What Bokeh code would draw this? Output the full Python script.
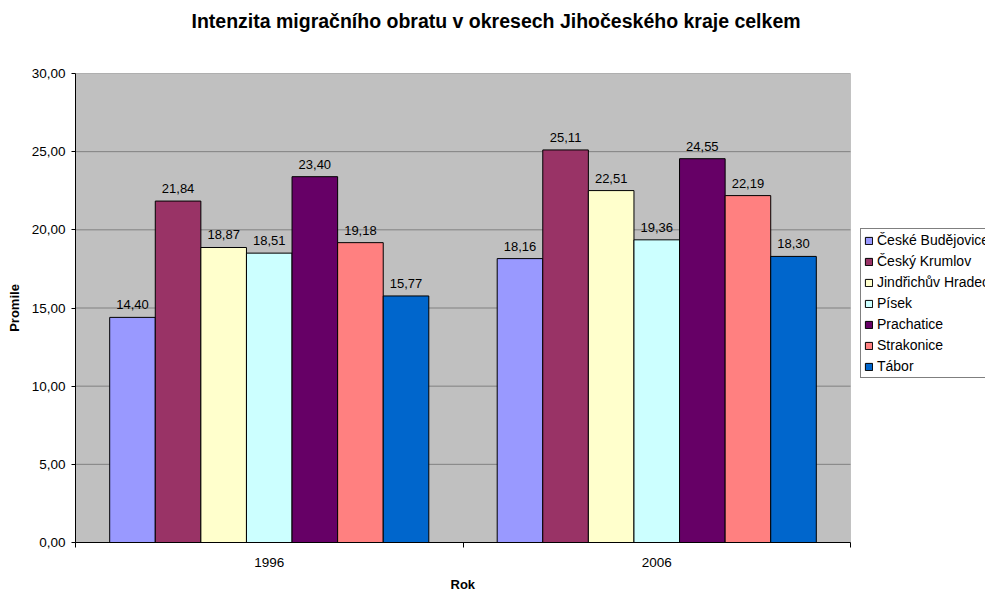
import numpy as np
from bokeh.plotting import figure
from bokeh.models import (ColumnDataSource, FixedTicker, Legend, LegendItem,
                          Range1d, BoxAnnotation, Title)
from bokeh.embed import file_html
from bokeh.resources import INLINE
from bokeh.core.properties import value

title_text = "Intenzita migračního obratu v okresech Jihočeského kraje celkem"
x_title = "Rok"
y_title = "Promile"
years = ["1996", "2006"]
districts = ["České Budějovice", "Český Krumlov", "Jindřichův Hradec",
             "Písek", "Prachatice", "Strakonice", "Tábor"]
values_1996 = [14.40, 21.84, 18.87, 18.51, 23.40, 19.18, 15.77]
values_2006 = [18.16, 25.11, 22.51, 19.36, 24.55, 22.19, 18.30]
colors = ["#9999FF", "#993366", "#FFFFCC", "#CCFFFF", "#660066", "#FF8080", "#0066CC"]
y_ticks = [0, 5, 10, 15, 20, 25, 30]
y_tick_labels = ["0,00", "5,00", "10,00", "15,00", "20,00", "25,00", "30,00"]

FONT = "Liberation Sans"
W, H = 985, 596
LEFT, PLOT_RIGHT = 75, 850          # pixel extent of the grey plot area
n_cat = len(years)
# frame spans to the right edge; the category axis covers only the plot area
x_end = n_cat * (W - LEFT) / (PLOT_RIGHT - LEFT)
y_max = y_ticks[-1]

p = figure(width=W, height=H, output_backend="svg", toolbar_location=None,
           x_range=Range1d(0, x_end), y_range=Range1d(0, y_max),
           min_border_left=LEFT, min_border_right=0,
           min_border_top=73, min_border_bottom=49)
p.background_fill_color = "white"
p.border_fill_color = "white"
p.outline_line_color = None

# grey plot area
p.add_layout(BoxAnnotation(left=0, right=n_cat, bottom=0, top=y_max,
                           fill_color="#C0C0C0", fill_alpha=1,
                           line_color="#808080", line_width=1, level="image"))

# horizontal gridlines limited to the plot area
p.xgrid.visible = False
p.ygrid.visible = False
g_y = y_ticks[1:]
p.segment(x0=[0] * len(g_y), x1=[n_cat] * len(g_y), y0=g_y, y1=g_y,
          line_color="#808080", line_width=1)

# title (extra blank lines lift it away from the plot area)
p.title.text = title_text + "\n \n "
p.title.align = "left"
p.title.offset = 116
p.title.text_font = FONT
p.title.text_font_size = "19.5px"
p.title.text_font_style = "bold"
p.title.text_color = "black"
p.title.text_line_height = 0.84

# bars
n = len(districts)
bw = 1.0 / (n + 1.5)
renderers = []
for i, (name, col) in enumerate(zip(districts, colors)):
    vals = [values_1996[i], values_2006[i]]
    xs = np.arange(n_cat) + 0.5 + (i - (n - 1) / 2) * bw
    src = ColumnDataSource(dict(x=xs, top=vals,
                                lbl=[f"{v:.2f}".replace(".", ",") for v in vals]))
    r = p.vbar(x="x", top="top", width=bw, bottom=0, source=src,
               fill_color=col, line_color="black", line_width=1)
    renderers.append((name, r))
    p.text(x="x", y="top", text="lbl", source=src, text_align="center",
           text_baseline="bottom", y_offset=-8, text_font=value(FONT),
           text_font_size="13px", text_color="black")

# axes
yax = p.yaxis[0]
yax.ticker = FixedTicker(ticks=y_ticks)
yax.major_label_overrides = {t: l for t, l in zip(y_ticks, y_tick_labels)}
yax.minor_tick_line_color = None
yax.major_tick_in = 0
yax.major_tick_out = 4
yax.major_label_standoff = 6
yax.axis_line_color = "black"
yax.major_label_text_font = FONT
yax.major_label_text_font_size = "13.5px"
yax.major_label_text_color = "black"
yax.axis_label = y_title
yax.axis_label_standoff = 7
yax.axis_label_text_font = FONT
yax.axis_label_text_font_size = "13px"
yax.axis_label_text_font_style = "bold"
yax.axis_label_text_color = "black"

xax = p.xaxis[0]
xax.bounds = (0, n_cat)
xax.ticker = FixedTicker(ticks=[0.5, 1.5], minor_ticks=[0, 1, 2])
xax.major_label_overrides = {0.5: years[0], 1.5: years[1]}
xax.major_tick_line_color = None
xax.minor_tick_in = 0
xax.minor_tick_out = 5
xax.minor_tick_line_color = "black"
xax.axis_line_color = "black"
xax.major_label_standoff = 9
xax.major_label_text_font = FONT
xax.major_label_text_font_size = "13.5px"
xax.major_label_text_color = "black"

# x-axis title centred under the grey plot area (below the axis panel)
p.add_layout(Title(text=x_title, align="left", offset=375, text_font=FONT,
                   text_font_size="13px", text_font_style="bold",
                   text_color="black"), "below")

# legend to the right of the grey area (runs off the right edge, as in the original)
legend = Legend(items=[LegendItem(label=nm, renderers=[r]) for nm, r in renderers],
                location=(860 - LEFT, 547 - 383), orientation="vertical", ncols=1)
legend.border_line_color = "black"
legend.border_line_width = 1
legend.background_fill_color = "white"
legend.background_fill_alpha = 1
legend.padding = 3
legend.margin = 0
legend.spacing = 5
legend.glyph_width = 9
legend.glyph_height = 9
legend.label_height = 16
legend.label_standoff = 4
legend.label_text_font = FONT
legend.label_text_font_size = "14px"
legend.label_text_color = "black"
p.add_layout(legend, "center")

open("out.html", "w").write(file_html(p, INLINE))
